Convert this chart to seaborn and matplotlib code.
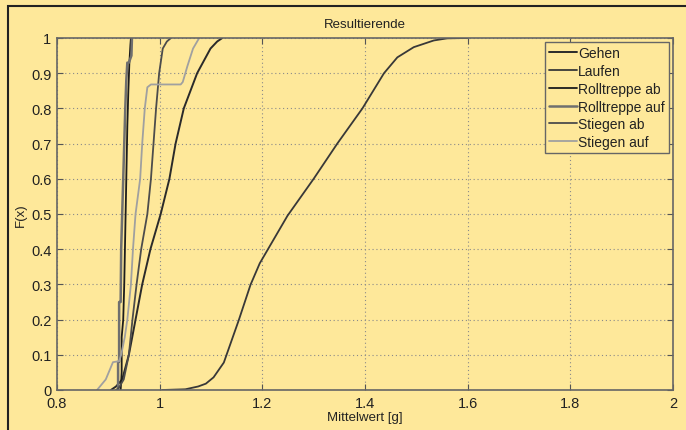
# ecdf_resultierende.py
# Empirische Verteilungsfunktionen der Resultierenden (Mittelwert in g) je Bewegungsart
import numpy as np
import pandas as pd
import matplotlib
matplotlib.use("Agg")
import matplotlib.pyplot as plt
from matplotlib.patches import Rectangle
import seaborn as sns

# ==== Daten ====
gehen_x = [0.905, 0.915, 0.927, 0.940, 0.953, 0.966, 0.982, 1.002, 1.019, 1.031,
           1.047, 1.073, 1.099, 1.112, 1.122]
gehen_y = [0.0, 0.01, 0.03, 0.1, 0.2, 0.3, 0.4, 0.5, 0.6, 0.7,
           0.8, 0.9, 0.97, 0.99, 1.0]

laufen_x = [1.005, 1.050, 1.075, 1.090, 1.105, 1.125, 1.154, 1.177, 1.195, 1.213,
            1.249, 1.300, 1.346, 1.395, 1.437, 1.463, 1.495, 1.534, 1.560, 1.600]
laufen_y = [0.0, 0.002, 0.01, 0.018, 0.036, 0.078, 0.198, 0.299, 0.36, 0.405,
            0.495, 0.6, 0.7, 0.8, 0.9, 0.945, 0.974, 0.993, 0.999, 1.0]

rt_ab_x = [0.924, 0.926, 0.926, 0.929, 0.931, 0.933, 0.935, 0.937, 0.939, 0.941,
           0.943, 0.944]
rt_ab_y = [0.0, 0.05, 0.15, 0.2, 0.3, 0.45, 0.6, 0.75, 0.85, 0.93,
           0.98, 1.0]

rt_auf_x = [0.919, 0.919, 0.921, 0.921, 0.924, 0.925, 0.927, 0.929, 0.931, 0.933,
            0.935, 0.937, 0.940, 0.945, 0.946]
rt_auf_y = [0.0, 0.08, 0.08, 0.25, 0.25, 0.4, 0.5, 0.6, 0.7, 0.8,
            0.88, 0.93, 0.93, 0.95, 1.0]

st_ab_x = [0.915, 0.920, 0.930, 0.940, 0.947, 0.955, 0.964, 0.976, 0.983, 0.988,
           0.993, 0.999, 1.006, 1.014, 1.022]
st_ab_y = [0.0, 0.005, 0.03, 0.1, 0.2, 0.3, 0.4, 0.5, 0.6, 0.7,
           0.8, 0.9, 0.97, 0.99, 1.0]

st_auf_x = [0.878, 0.895, 0.909, 0.921, 0.925, 0.932, 0.937, 0.944, 0.948, 0.953,
            0.962, 0.966, 0.971, 0.976, 0.983, 1.041, 1.045, 1.054, 1.065, 1.077]
st_auf_y = [0.0, 0.03, 0.079, 0.082, 0.1, 0.15, 0.2, 0.3, 0.4, 0.5,
            0.6, 0.7, 0.8, 0.86, 0.868, 0.868, 0.875, 0.92, 0.97, 1.0]

labels = ["Gehen", "Laufen", "Rolltreppe ab", "Rolltreppe auf", "Stiegen ab", "Stiegen auf"]
series = [(gehen_x, gehen_y), (laufen_x, laufen_y), (rt_ab_x, rt_ab_y),
          (rt_auf_x, rt_auf_y), (st_ab_x, st_ab_y), (st_auf_x, st_auf_y)]

x_ticks = [0.8, 1.0, 1.2, 1.4, 1.6, 1.8, 2.0]
x_ticklabels = ["0.8", "1", "1.2", "1.4", "1.6", "1.8", "2"]
y_ticks = [0, 0.1, 0.2, 0.3, 0.4, 0.5, 0.6, 0.7, 0.8, 0.9, 1.0]
y_ticklabels = ["0", "0.1", "0.2", "0.3", "0.4", "0.5", "0.6", "0.7", "0.8", "0.9", "1"]

# ==== Stil ====
bg = "#FEE89A"
colors = ["#2a2a2a", "#383838", "#1c1c1c", "#6f6f6f", "#4c4c4c", "#a0a0a0"]
widths = [1.4, 1.3, 1.3, 1.8, 1.3, 1.3]

sns.set_style("ticks")
plt.rcParams["font.family"] = ["Liberation Sans", "DejaVu Sans"]

fig = plt.figure(figsize=(6.86, 4.31), dpi=100, facecolor=bg)
ax = fig.add_axes([57 / 686, 1 - 391 / 431, 616 / 686, 352 / 431])
ax.set_facecolor(bg)

for (xs, ys), lab, c, lw in zip(series, labels, colors, widths):
    d = pd.DataFrame({"x": xs, "y": ys})
    sns.lineplot(data=d, x="x", y="y", ax=ax, color=c, linewidth=lw, label=lab,
                 estimator=None, sort=False, errorbar=None)

ax.set_xlim(0.8, 2.0)
ax.set_ylim(0, 1)
ax.set_xticks(x_ticks)
ax.set_xticklabels(x_ticklabels)
ax.set_yticks(y_ticks)
ax.set_yticklabels(y_ticklabels)
ax.tick_params(direction="in", length=4, width=0.8, color="#555555",
               labelsize=10.5, labelcolor="#222222", pad=4,
               top=True, right=True)
ax.grid(True, color="#8a8a8a", linestyle=(0, (1, 2.5)), linewidth=0.8)
for s in ax.spines.values():
    s.set_color("#666666")
    s.set_linewidth(1.2)

ax.set_title("Resultierende", fontsize=9.5, color="#222222", pad=8)
ax.set_xlabel("Mittelwert [g]", fontsize=9.5, color="#222222", labelpad=1)
ax.set_ylabel("F(x)", fontsize=9.5, color="#222222", labelpad=3)

leg = ax.legend(loc="upper right", fontsize=10, frameon=True, fancybox=False,
                framealpha=1, facecolor=bg, edgecolor="#666666",
                borderaxespad=0.3, handlelength=2.0, handletextpad=0.1,
                labelspacing=0.27, borderpad=0.3)
leg.get_frame().set_linewidth(1.0)
for t in leg.get_texts():
    t.set_color("#222222")

# dunkler Rahmen um die Grafik (links/oben sichtbar)
fig.patches.append(Rectangle((8 / 686, -0.5), 2.0, 1.5 - 7 / 431,
                             transform=fig.transFigure, fill=False,
                             edgecolor="#222222", linewidth=1.5))

fig.savefig("out.png", dpi=100, facecolor=bg)
